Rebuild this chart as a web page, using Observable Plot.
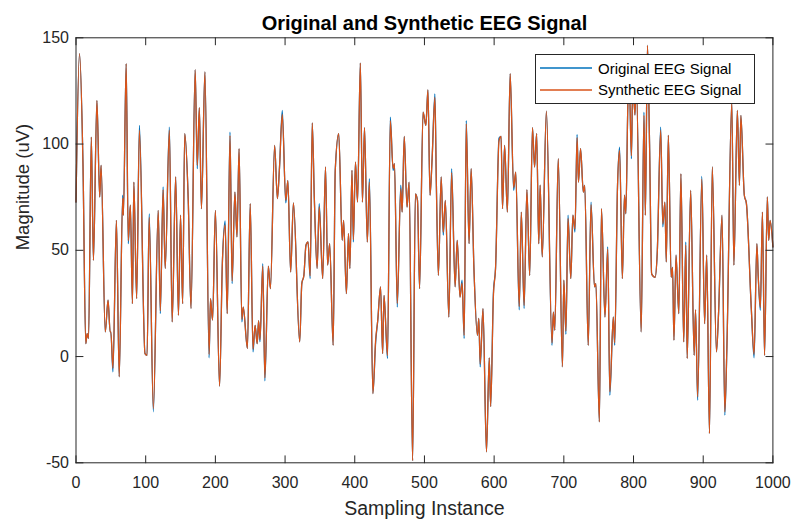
<!DOCTYPE html>
<html>
<head>
<meta charset="utf-8">
<script src="https://cdn.jsdelivr.net/npm/d3@7"></script>
<script src="https://cdn.jsdelivr.net/npm/@observablehq/plot@0.6"></script>
<style>
  body { margin: 0; background: #fff; }
  #wrap { position: relative; width: 793px; height: 519px; font-family: "Liberation Sans", Arial, Helvetica, sans-serif; }
  #legend { position: absolute; left: 535px; top: 54px; width: 220px; height: 50px; box-sizing: border-box;
            border: 1px solid #262626; background: #fff; font-size: 15px; color: #000; }
  .row { position: absolute; left: 4px; height: 20px; display: flex; align-items: center; }
  .row svg { margin-right: 6px; }
</style>
</head>
<body>
<div id="wrap">
  <div id="chart"></div>
  <div id="legend"></div>
</div>
<script>
// ---- data ----
const samples = [
  0,5,10,14,16,18,22,25,30,34,36,42,46,49,50,53,58,62,67,68,72,75,78,81,83,87,91,99,102,105,111,118,121,125,128,
  134,138,143,147,150,153,156,161,165,171,174,177,180,185,191,193,196,200,206,210,214,217,221,224,228,231,234,238,240,246,250,
  254,257,260,262,264,268,271,276,279,285,289,292,296,301,304,308,312,321,324,327,330,333,336,339,342,346,349,354,358,361,364,369,372,377,
  382,384,388,391,393,396,398,401,404,408,411,414,418,421,426,430,433,437,440,442,447,451,455,457,461,466,468,471,475,478,483,487,490,493,498,502,505,508,511,515,
  517,520,524,527,530,535,539,544,547,551,554,557,560,564,567,571,576,578,580,584,589,593,595,599,602,607,610,612,615,619,623,628,631,636,639,
  643,647,651,655,658,661,664,666,669,675,683,685,687,692,698,700,703,706,710,713,716,719,721,724,728,730,735,739,744,746,751,754,759,763,766,
  771,773,777,780,784,787,789,792,794,797,799,802,804,811,815,817,820,823,826,831,834,839,842,845,847,850,854,856,858,861,865,868,872,875,877,882,887,889,892,898,
  902,905,909,913,919,922,927,931,934,941,944,949,952,954,959,962,969,973,977,979,982,985,988,992,994,996,1000
];
const original = [
  72.7,142.5,90.8,6.1,10.8,8.5,103.3,45.3,120.5,75.1,90.0,11.6,26.5,11.6,11.6,-7.2,64.1,-9.5,75.9,66.5,137.8,53.1,71.2,24.9,82.1,27.3,108.8,1.4,0.6,67.2,-26.0,68.8,20.2,79.8,41.4,
  108.0,16.3,84.5,19.4,66.5,24.9,104.9,74.3,22.6,135.0,88.4,117.1,69.6,133.9,-0.6,27.3,17.1,68.8,-13.9,43.8,63.8,20.2,105.6,34.3,77.4,56.3,97.8,16.3,23.3,3.8,71.9,
  2.2,14.7,6.1,16.9,6.9,43.7,-11.4,42.5,32.0,99.4,74.3,88.9,115.8,72.3,82.9,39.8,72.3,6.9,34.3,38.2,52.4,53.9,36.7,109.9,74.3,41.4,71.9,36.7,89.2,43.0,53.1,5.3,87.6,104.9,
  54.7,64.1,29.6,57.8,41.4,87.6,53.9,91.5,72.7,138.1,72.7,107.7,53.9,83.7,-17.4,6.9,17.1,32.8,1.4,28.8,-0.9,112.7,87.6,90.8,23.3,80.6,68.0,103.6,70.3,82.1,-49.0,76.6,73.5,32.0,115.0,108.8,125.5,75.9,93.1,123.6,
  82.9,38.2,84.5,57.1,73.5,18.6,88.4,32.8,54.7,28.0,35.9,8.5,111.1,53.1,88.4,41.4,10.0,17.9,-4.9,22.6,-44.8,-0.6,-23.5,30.4,41.4,102.8,103.6,69.6,99.4,68.0,133.1,78.2,86.8,22.0,68.0,
  22.6,78.5,38.2,107.7,89.2,104.9,53.1,80.6,46.9,115.5,5.3,20.9,12.4,93.1,-4.9,35.9,10.5,66.5,36.7,66.5,58.6,104.5,82.1,97.8,77.4,80.6,5.3,72.7,32.8,34.3,-30.7,69.6,18.6,51.6,-18.2,
  18.6,5.3,79.8,98.6,36.7,75.9,67.2,119.8,128.0,93.1,131.0,113.7,130.0,11.6,115.0,66.5,146.4,100.1,38.9,37.3,48.4,108.0,61.0,72.7,44.5,104.1,37.3,42.0,7.7,47.7,20.2,86.0,6.9,53.9,-0.9,78.2,0.6,22.0,-20.6,84.8,
  15.5,47.7,-36.2,89.2,2.2,20.2,66.5,-27.6,4.5,119.8,43.0,115.8,80.6,113.5,75.9,72.0,22.6,-0.6,53.1,37.3,21.8,68.0,0.6,75.1,54.7,64.1,51.6
];
const synthetic = [
  72.7,142.5,90.8,6.1,10.8,8.5,103.3,45.3,120.5,75.1,90.0,11.6,26.5,11.6,11.6,-5.5,64.1,-9.5,74.5,66.5,137.8,54.5,71.2,24.9,82.1,27.3,106.5,1.4,0.6,65.5,-24.5,68.8,21.5,78.5,41.4,
  106.5,16.3,84.5,19.4,66.5,24.9,104.9,74.3,22.6,135.0,90.0,117.1,69.6,133.9,1.0,27.3,17.1,68.8,-13.9,43.8,62.0,20.2,104.0,35.5,77.4,56.3,97.8,17.5,23.3,3.8,71.9,
  3.5,14.7,6.1,16.9,8.0,42.5,-10.0,42.5,32.0,99.4,74.3,88.9,114.0,73.5,82.9,39.8,72.3,6.9,34.3,38.2,52.4,53.9,38.0,109.9,74.3,41.4,70.5,36.7,89.2,43.0,53.1,5.3,87.6,104.9,
  54.7,64.1,29.6,57.8,41.4,87.6,55.0,91.5,72.7,138.1,72.7,107.7,53.9,82.0,-17.4,8.0,17.1,32.8,1.4,28.8,0.5,111.0,88.5,90.8,25.0,79.0,68.0,103.6,70.3,82.1,-49.0,76.6,73.5,32.0,115.0,108.8,125.5,75.9,93.1,122.0,
  82.9,38.2,84.5,58.5,73.5,18.6,86.5,32.8,54.7,28.0,34.5,10.0,109.5,53.1,88.4,41.4,10.0,17.9,-3.5,22.6,-44.8,-0.6,-23.5,29.0,41.4,101.5,103.6,69.6,99.4,68.0,133.1,79.5,86.8,23.5,68.0,
  24.0,78.5,38.2,107.7,89.2,104.9,53.1,80.6,46.9,115.5,6.5,20.9,12.4,93.1,-4.9,35.9,12.0,65.0,36.7,66.5,60.0,103.0,82.1,97.8,77.4,80.6,5.3,71.5,32.8,34.3,-30.7,69.6,18.6,50.5,-16.5,
  18.6,6.5,79.8,97.0,36.7,75.9,67.2,119.8,128.0,94.5,131.0,113.7,130.0,11.6,113.5,66.5,146.4,100.1,38.9,37.3,48.4,106.5,62.5,72.7,44.5,104.1,37.3,42.0,7.7,47.7,20.2,86.0,6.9,52.5,-0.9,78.2,0.6,22.0,-19.0,83.5,
  15.5,47.7,-36.2,89.2,2.2,20.2,66.5,-26.0,4.5,119.8,43.0,115.8,80.6,113.5,75.9,72.0,22.6,1.0,53.1,37.3,23.0,68.0,0.6,75.1,54.7,64.1,51.6
];
const seriesNames = ["Original EEG Signal", "Synthetic EEG Signal"];
const seriesColors = ["#0072BD", "#D95319"];
const xTicks = [0,100,200,300,400,500,600,700,800,900,1000];
const yTicks = [-50,0,50,100,150];
const titleText = "Original and Synthetic EEG Signal";
const xLabel = "Sampling Instance";
const yLabel = "Magnitude (uV)";

// ---- build table ----
const rows = [];
samples.forEach((s, i) => rows.push({s, v: original[i], series: seriesNames[0]}));
samples.forEach((s, i) => rows.push({s, v: synthetic[i], series: seriesNames[1]}));

const ink = "#262626";
// simple straight tick shape for inward-pointing ticks
const tickShape = {draw(context, l) { context.moveTo(0, 0); context.lineTo(0, -l); }};
const tickOpts = {length: 7, anchor: "start", shape: tickShape, stroke: ink, strokeWidth: 1};

const chart = Plot.plot({
  width: 793,
  height: 519,
  marginLeft: 75.5,
  marginRight: 20.6,
  marginTop: 37.3,
  marginBottom: 56.7,
  style: {fontFamily: '"Liberation Sans", Arial, Helvetica, sans-serif', background: "#fff", overflow: "visible"},
  x: {domain: [0, 1000]},
  y: {domain: [-50, 150]},
  color: {domain: seriesNames, range: seriesColors},
  marks: [
    Plot.line(rows, {x: "s", y: "v", z: "series", stroke: "series", strokeWidth: 1.3, curve: "monotone-x"}),
    Plot.frame({stroke: ink, strokeWidth: 1}),
    Plot.axisX(xTicks, {anchor: "bottom", tickSize: 0, tickPadding: 14, fontSize: 16, color: ink, label: null, tickFormat: d => String(d)}),
    Plot.axisY(yTicks, {anchor: "left", tickSize: 0, tickPadding: 7, fontSize: 16, color: ink, label: null, tickFormat: d => String(d)}),
    Plot.vector(xTicks, {x: d => d, frameAnchor: "bottom", rotate: 0, ...tickOpts}),
    Plot.vector(xTicks, {x: d => d, frameAnchor: "top", rotate: 180, ...tickOpts}),
    Plot.vector(yTicks, {y: d => d, frameAnchor: "left", rotate: 90, ...tickOpts}),
    Plot.vector(yTicks, {y: d => d, frameAnchor: "right", rotate: -90, ...tickOpts}),
    Plot.text([titleText], {frameAnchor: "top", dy: -22, fontSize: 20, fontWeight: "bold", fill: "#000", text: d => d}),
    Plot.text([xLabel], {frameAnchor: "bottom", dy: 52, fontSize: 19.5, fill: ink, text: d => d}),
    Plot.text([yLabel], {frameAnchor: "left", dx: -53, rotate: -90, fontSize: 18.5, fill: ink, text: d => d})
  ]
});
document.getElementById("chart").appendChild(chart);

// ---- legend ----
const legend = document.getElementById("legend");
seriesNames.forEach((name, i) => {
  const row = document.createElement("div");
  row.className = "row";
  row.style.top = (3 + i * 21.5) + "px";
  row.innerHTML = `<svg width="52" height="4"><line x1="0" y1="2" x2="52" y2="2" stroke="${seriesColors[i]}" stroke-width="1.3"/></svg><span>${name}</span>`;
  legend.appendChild(row);
});
</script>
</body>
</html>
